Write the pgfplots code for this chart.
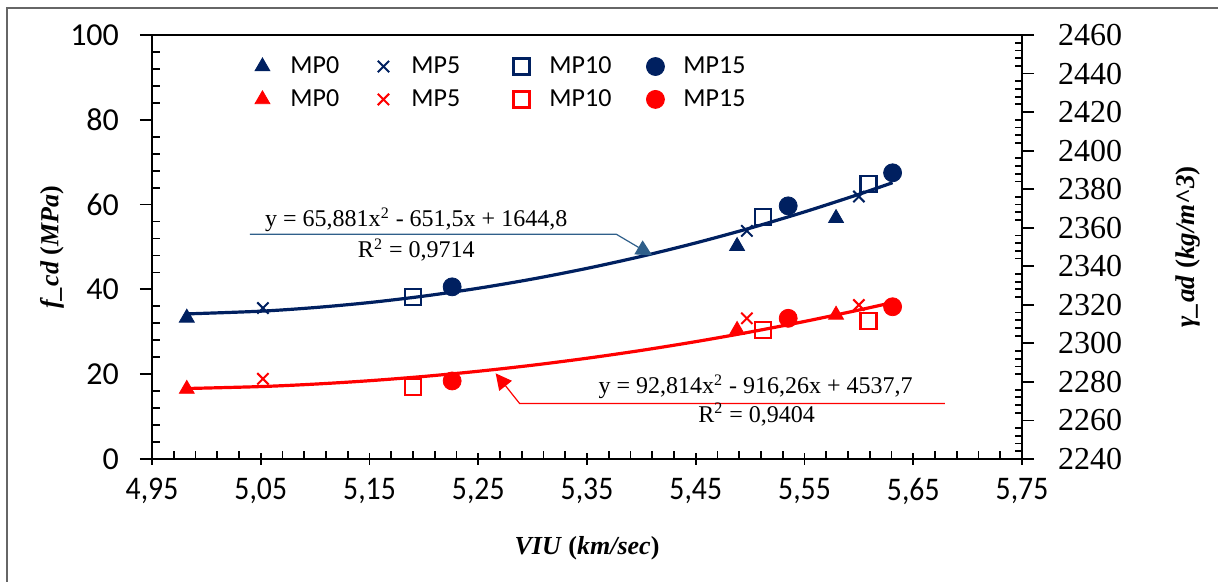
\documentclass[border=0pt]{standalone}
\usepackage{fontspec}
\setmainfont{Liberation Serif}
\newfontfamily\timesf{Liberation Serif}
\newfontfamily\calibri{Carlito}
\newfontfamily\calibricond[FakeStretch=0.9]{Carlito}
\usepackage{pgfplots}
\pgfplotsset{compat=1.18}
\usetikzlibrary{arrows.meta}
\definecolor{navy}{HTML}{002060}
\definecolor{steel}{HTML}{2F5F8A}
\definecolor{myred}{HTML}{FF0000}
\begin{document}
\begin{tikzpicture}
\begin{axis}[
  scale only axis, width=435pt, height=212pt,
  xmin=4.95, xmax=5.75, ymin=0, ymax=100,
  xtick={4.95,5.05,5.15,5.25,5.35,5.45,5.55,5.65,5.75},
  minor x tick num=4,
  ytick={0,20,40,60,80,100}, minor y tick num=4,
  xtick pos=bottom, ytick pos=left,
  axis line style={line width=1pt},
  tick align=outside, major tick length=6pt, minor tick length=4pt,
  every tick/.style={black, line width=0.9pt},
  minor x tick style={yshift=4pt},
  major x tick style={yshift=3pt},
  minor y tick style={xshift=4pt},
  xticklabel style={font=\calibricond\fontsize{16.5}{18}\selectfont,
    /pgf/number format/.cd, fixed, fixed zerofill, precision=2, use comma, assume math mode=true},
  yticklabel style={font=\calibri\fontsize{16}{18}\selectfont, xshift=-7pt,
    /pgf/number format/assume math mode=true},
  xlabel={\textbf{\textit{VIU} (\textit{km/sec})}},
  xlabel style={font=\fontsize{13}{15}\selectfont, at={(axis description cs:0.5,-0.21)}, anchor=center},
  ylabel={\textbf{\textit{f\_cd} (\textit{MPa})}},
  ylabel style={font=\fontsize{13}{15}\selectfont, at={(axis description cs:-0.115,0.5)}, anchor=center, rotate=0},
  clip=false,
]
% blue trendline (left axis)
\addplot[navy, line width=1.6pt, smooth, forget plot] coordinates {
(4.982,34.22) (5.05,34.86) (5.10,35.72) (5.15,36.90) (5.20,38.42) (5.25,40.27)
(5.30,42.45) (5.35,44.96) (5.40,47.79) (5.45,50.96) (5.50,54.45) (5.55,58.28)
(5.60,62.43) (5.631,65.17)};
% MP0
\addplot[only marks, mark=triangle*, mark size=4.3pt, navy, forget plot] coordinates {
(4.982,33.3) (5.488,50.2) (5.579,56.8)};
% MP5
\addplot[only marks, mark=x, mark size=4pt, navy, mark options={line width=1pt}, forget plot] coordinates {
(5.052,35.6) (5.497,53.8) (5.600,61.9)};
% MP10
\addplot[only marks, mark=square, mark size=4pt, navy, mark options={line width=1.2pt}, forget plot] coordinates {
(5.190,38.2) (5.512,57.1) (5.609,64.8)};
% MP15
\addplot[only marks, mark=*, mark size=4.5pt, navy, forget plot] coordinates {
(5.226,40.6) (5.535,59.7) (5.631,67.5)};
% blue equation callout
\draw[steel, line width=0.6pt, -{Triangle[length=8pt,width=8pt]}]
  (axis cs:5.040,53.0) -- (axis cs:5.377,53.0) -- (axis cs:5.410,48.0);
\node[font=\fontsize{12}{14}\selectfont, anchor=center] at (axis cs:5.193,56.4)
  {y = 65,881x\textsuperscript{2} - 651,5x + 1644,8};
\node[font=\fontsize{12}{14}\selectfont, anchor=center] at (axis cs:5.193,49.3)
  {R\textsuperscript{2} = 0,9714};
% red equation callout
\draw[myred, line width=0.6pt, -{Triangle[length=8pt,width=8pt]}]
  (axis cs:5.679,13.1) -- (axis cs:5.288,13.1) -- (axis cs:5.266,20.2);
\node[font=\fontsize{12}{14}\selectfont, anchor=center] at (axis cs:5.505,17.0)
  {y = 92,814x\textsuperscript{2} - 916,26x + 4537,7};
\node[font=\fontsize{12}{14}\selectfont, anchor=center] at (axis cs:5.506,10.4)
  {R\textsuperscript{2} = 0,9404};
\end{axis}
\begin{axis}[
  scale only axis, width=435pt, height=212pt,
  xmin=4.95, xmax=5.75, ymin=2240, ymax=2460,
  axis y line*=right, hide x axis,
  ytick={2240,2260,...,2460}, minor y tick num=4,
  axis line style={line width=1pt},
  tick align=outside, major tick length=6pt, minor tick length=3.5pt,
  every tick/.style={black, line width=0.9pt},
  minor y tick style={xshift=-3.5pt},
  yticklabel={\mbox{\timesf\fontsize{16}{18}\selectfont\pgfmathprintnumber[assume math mode=true,1000 sep={}]{\tick}}},
  yticklabel style={xshift=8.5pt},
  ylabel={\textbf{\textit{γ\_ad} (\textit{kg/m\textasciicircum 3})}},
  ylabel style={font=\fontsize{13.5}{15}\selectfont, at={(axis description cs:1.191,0.5)}, anchor=center},
  legend columns=4,
  legend image code/.code={\draw[#1] plot coordinates {(0pt,0pt)};
    \path[draw=none, fill=none] (-5pt,-4.5pt) rectangle (14pt,4.5pt);},
  legend style={draw=none, fill=none, inner sep=0pt, font=\calibri\fontsize{13}{15}\selectfont,
    nodes={inner sep=0pt},
    at={(axis description cs:0.115,0.95)}, anchor=north west,
    /tikz/every even column/.append style={column sep=0pt},
    /tikz/every odd column/.append style={column sep=0pt},
    row sep=6.5pt},
  legend cell align=left,
  clip=false,
]
\addlegendimage{only marks, mark=triangle*, mark size=4.3pt, navy}
\addlegendentry{\makebox[41.5pt][l]{MP0}}
\addlegendimage{only marks, mark=x, mark size=4pt, navy, mark options={line width=1pt}}
\addlegendentry{\makebox[50pt][l]{MP5}}
\addlegendimage{only marks, mark=square, mark size=4pt, navy, mark options={line width=1.2pt}}
\addlegendentry{\makebox[48pt][l]{MP10}}
\addlegendimage{only marks, mark=*, mark size=4.5pt, navy}
\addlegendentry{MP15}
% red trendline (right axis)
\addplot[myred, line width=1.6pt, smooth, forget plot] coordinates {
(4.982,2276.57) (5.05,2277.58) (5.10,2278.87) (5.15,2280.62) (5.20,2282.84) (5.25,2285.52)
(5.30,2288.67) (5.35,2292.28) (5.40,2296.35) (5.45,2300.89) (5.50,2305.89) (5.55,2311.36)
(5.60,2317.29) (5.631,2321.20)};
\addplot[only marks, mark=triangle*, mark size=4.3pt, myred] coordinates {
(4.982,2276.3) (5.488,2306.9) (5.579,2314.8)};
\addlegendentry{\makebox[41.5pt][l]{MP0}}
\addplot[only marks, mark=x, mark size=4pt, myred, mark options={line width=1pt}] coordinates {
(5.052,2281.6) (5.497,2313.0) (5.600,2319.9)};
\addlegendentry{\makebox[50pt][l]{MP5}}
\addplot[only marks, mark=square, mark size=4pt, myred, mark options={line width=1.2pt}] coordinates {
(5.190,2277.4) (5.512,2306.9) (5.609,2311.7)};
\addlegendentry{\makebox[48pt][l]{MP10}}
\addplot[only marks, mark=*, mark size=4.5pt, myred] coordinates {
(5.226,2280.5) (5.535,2313.0) (5.631,2319.0)};
\addlegendentry{MP15}
\end{axis}
\draw[gray!80!black, line width=0.8pt] (-72.5pt,-61.5pt) -- (-72.5pt,225.5pt) -- (533pt,225.5pt);
\pgfresetboundingbox
\useasboundingbox (-76pt,-61.5pt) rectangle (533pt,229.5pt);
\end{tikzpicture}
\end{document}
